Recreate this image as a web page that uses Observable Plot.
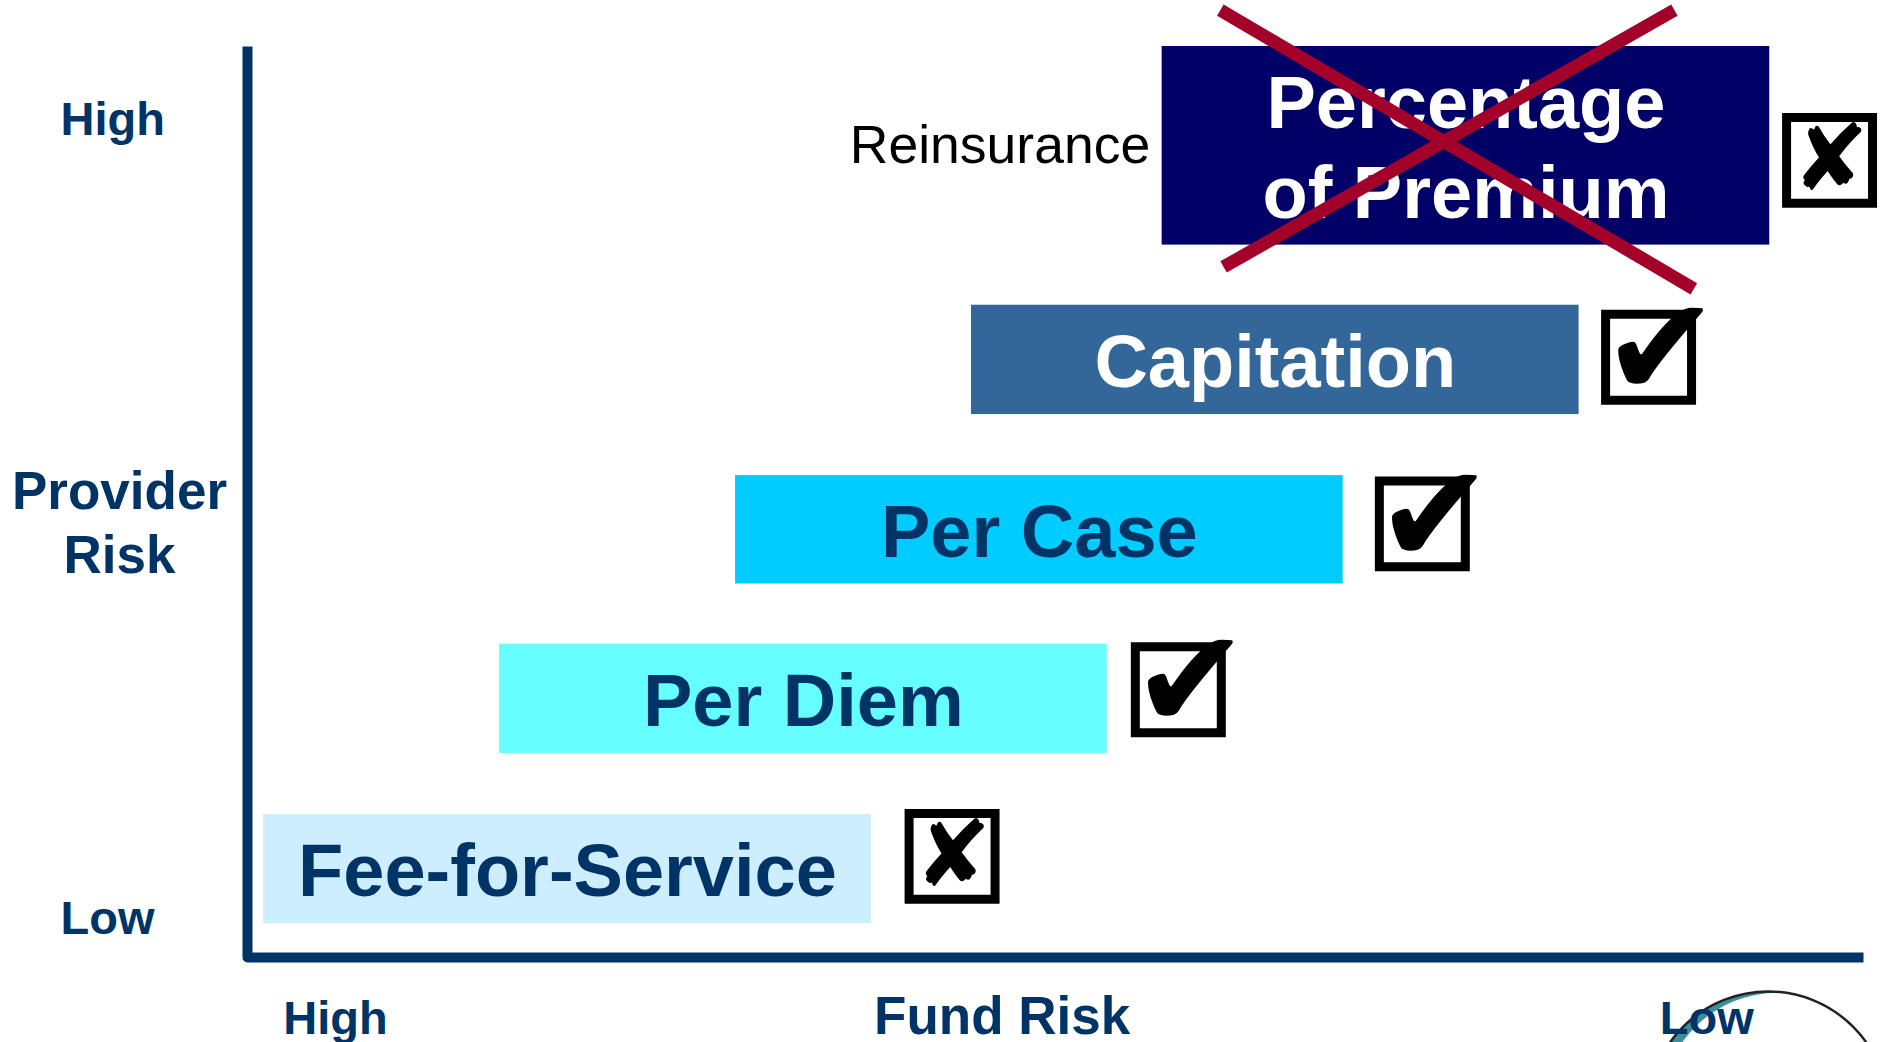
<!DOCTYPE html>
<html><head><meta charset="utf-8">
<script src="https://cdn.jsdelivr.net/npm/d3@7"></script>
<script src="https://cdn.jsdelivr.net/npm/@observablehq/plot@0.6"></script>
<style>html,body{margin:0;padding:0;background:#fff;overflow:hidden}</style>
</head><body><div id="chart"></div>
<script>
// ---- data (x: fund risk position 0=High .. 100=Low; y: provider risk 0=Low .. 100=High)
const categories = ["Fee-for-Service", "Per Diem", "Per Case", "Capitation", "Percentage\nof Premium"];
const fundRiskStart = [1.0, 15.6, 30.2, 44.8, 56.6];
const fundRiskEnd = [38.6, 53.2, 67.8, 82.4, 94.2];
const providerRiskLow = [3.7, 22.4, 41.0, 59.6, 78.2];
const providerRiskHigh = [15.7, 34.4, 52.9, 71.6, 100];
const approved = [false, true, true, true, false];
const checkX = [43.6, 57.6, 72.7, 86.7, 97.9];
const checkY = [11.1, 29.4, 47.6, 65.9, 87.5];
// strike-through cross on the rejected "Percentage of Premium" option
const strikeX1 = [60.2, 88.3];
const strikeY1 = [104.0, 104.0];
const strikeX2 = [89.5, 60.4];
const strikeY2 = [73.4, 75.8];
const sideNote = "Reinsurance";
// axis annotations
const yLabels = ["High", "Low"];
const yLabelPos = [91.9, 4.2];
const yTitle = "Provider\nRisk";
const yTitlePos = 48.0;
const xLabels = ["High", "Fund Risk", "Low"];
const xLabelPos = [5.45, 46.7, 90.3];
// decorative logo (partial circle at bottom right)
const logoX = [94.1];
const logoY = [-16.9];
const logoInnerX = [94.7];
const logoInnerY = [-16.7];

// ---- styles
const barFill = ["#cceeff", "#66ffff", "#00ccff", "#336699", "#000066"];
const labelFill = ["#003366", "#003366", "#003366", "#ffffff", "#ffffff"];
const navy = "#003366";

const rows = categories.map((name, i) => ({
  name, x1: fundRiskStart[i], x2: fundRiskEnd[i], y1: providerRiskLow[i], y2: providerRiskHigh[i],
  ok: approved[i], cx: checkX[i], cy: checkY[i], fill: barFill[i], color: labelFill[i]
}));
const strikes = strikeX1.map((d, i) => ({x1: d, y1: strikeY1[i], x2: strikeX2[i], y2: strikeY2[i]}));
const topRow = rows[rows.length - 1];

const xDom = [0, 100], yDom = [0, 100];
const axisPts = [{x: xDom[0], y: yDom[1]}, {x: xDom[0], y: yDom[0]}, {x: xDom[1], y: yDom[0]}];

const chart = Plot.plot({
  width: 1885, height: 1042,
  marginLeft: 247, marginRight: 22, marginTop: 46, marginBottom: 85,
  x: {domain: xDom, axis: null},
  y: {domain: yDom, axis: null},
  color: {type: "identity"},
  style: {fontFamily: "'Liberation Sans', Arial, sans-serif", overflow: "visible", background: "white"},
  marks: [
    // logo
    Plot.dot(logoX, {x: d => d, y: (d, i) => logoY[i], r: 120, fill: "#3b8e9c", stroke: "none"}),
    Plot.dot(logoInnerX, {x: d => d, y: (d, i) => logoInnerY[i], r: 117, fill: "white", stroke: "none"}),
    Plot.dot(logoX, {x: d => d, y: (d, i) => logoY[i], r: 120, fill: "none", stroke: "#222", strokeWidth: 2.5}),
    // bars
    Plot.rect(rows, {x1: "x1", x2: "x2", y1: "y1", y2: "y2", fill: "fill"}),
    Plot.text(rows, {x: d => (d.x1 + d.x2) / 2, y: d => (d.y1 + d.y2) / 2, text: "name", fill: "color",
      fontSize: 74, fontWeight: "bold", lineHeight: 1.216, dy: -2}),
    // side note
    Plot.text([topRow], {x: "x1", y: d => (d.y1 + d.y2) / 2, text: () => sideNote, textAnchor: "end",
      dx: -12, dy: 0, fontSize: 53.5, fill: "black"}),
    // strike cross
    Plot.link(strikes, {x1: "x1", y1: "y1", x2: "x2", y2: "y2", stroke: "#a3002a", strokeWidth: 13}),
    // check boxes
    Plot.dot(rows, {x: "cx", y: "cy", symbol: "square", r: 48.5, fill: "white", stroke: "black",
      strokeWidth: 9, strokeLinejoin: "miter"}),
    Plot.text(rows.filter(d => d.ok), {x: "cx", y: "cy", text: () => "\u2714", fontFamily: "DejaVu Sans",
      fontSize: 140, fill: "black", dx: 12, dy: -6}),
    Plot.text(rows.filter(d => !d.ok), {x: "cx", y: "cy", text: () => "\u2718", fontFamily: "DejaVu Sans",
      fontSize: 92, fill: "black", dx: 1, dy: 0}),
    // axis lines
    Plot.line(axisPts, {x: "x", y: "y", stroke: navy, strokeWidth: 10, strokeLinejoin: "round", strokeLinecap: "butt"}),
    // y annotations
    Plot.text(yLabels, {y: (d, i) => yLabelPos[i], text: d => d, frameAnchor: "left", textAnchor: "start",
      dx: -187, fontSize: 47, fontWeight: "bold", fill: navy}),
    Plot.text([yTitle], {y: () => yTitlePos, text: d => d, frameAnchor: "left", textAnchor: "middle",
      dx: -128, fontSize: 53, lineHeight: 1.21, fontWeight: "bold", fill: navy}),
    // x annotations
    Plot.text(xLabels, {x: (d, i) => xLabelPos[i], text: d => d, frameAnchor: "bottom",
      dy: 76, fontSize: (d) => d === "Fund Risk" ? 53 : 47, fontWeight: "bold", fill: navy})
  ]
});
document.getElementById("chart").appendChild(chart);
</script>
</body></html>
